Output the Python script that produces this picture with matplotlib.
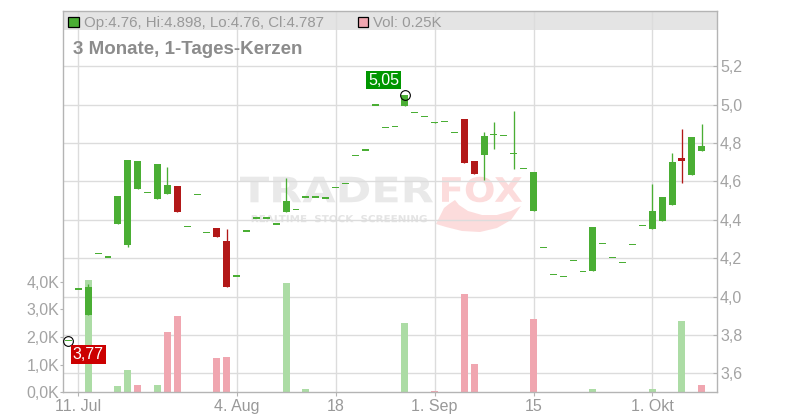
import numpy as np
import matplotlib
matplotlib.use("Agg")
import matplotlib.pyplot as plt
from matplotlib.patches import Rectangle, PathPatch, Polygon
from matplotlib.textpath import TextPath
from matplotlib.font_manager import FontProperties
from matplotlib.transforms import Affine2D, blended_transform_factory

plt.rcParams['font.family'] = ['Liberation Sans', 'DejaVu Sans']

# daily candles, one per trading day (index 0 = 10. Jul)
open_ = [3.77, 4.04, 3.904, 4.225, 4.206, 4.378, 4.269, 4.562, 4.543, 4.508,
         4.535, 4.576, 4.366, 4.533, 4.335, 4.357, 4.289, 4.107, 4.342, 4.409,
         4.409, 4.378, 4.442, 4.455, 4.519, 4.519, 4.514, 4.569, 4.590, 4.736,
         4.764, 4.998, 4.882, 4.887, 4.993, 4.960, 4.939, 4.902, 4.913, 4.856,
         4.925, 4.706, 4.738, 4.845, 4.840, 4.743, 4.668, 4.447, 4.257, 4.116,
         4.105, 4.189, 4.132, 4.133, 4.277, 4.204, 4.178, 4.272, 4.371, 4.352,
         4.394, 4.477, 4.722, 4.634, 4.76]
high = [3.77, 4.04, 4.064, 4.225, 4.206, 4.524, 4.711, 4.706, 4.543, 4.690,
        4.677, 4.576, 4.366, 4.533, 4.335, 4.357, 4.352, 4.107, 4.342, 4.409,
        4.409, 4.378, 4.619, 4.455, 4.519, 4.519, 4.514, 4.569, 4.590, 4.736,
        4.764, 4.998, 4.882, 4.887, 5.05, 4.960, 4.939, 4.91, 4.913, 4.856,
        4.925, 4.706, 4.859, 4.908, 4.840, 4.967, 4.668, 4.651, 4.257, 4.116,
        4.105, 4.189, 4.132, 4.362, 4.277, 4.204, 4.178, 4.272, 4.371, 4.586,
        4.519, 4.746, 4.871, 4.831, 4.898]
low = [3.77, 4.04, 3.904, 4.225, 4.206, 4.378, 4.26, 4.562, 4.543, 4.508,
       4.535, 4.442, 4.366, 4.533, 4.335, 4.312, 4.051, 4.107, 4.342, 4.409,
       4.409, 4.378, 4.442, 4.455, 4.519, 4.519, 4.514, 4.569, 4.590, 4.736,
       4.764, 4.998, 4.882, 4.887, 4.993, 4.960, 4.939, 4.902, 4.913, 4.856,
       4.697, 4.639, 4.607, 4.769, 4.840, 4.665, 4.668, 4.447, 4.257, 4.116,
       4.105, 4.189, 4.132, 4.133, 4.277, 4.204, 4.178, 4.272, 4.371, 4.352,
       4.394, 4.477, 4.593, 4.634, 4.76]
close = [3.77, 4.04, 4.051, 4.225, 4.206, 4.524, 4.711, 4.706, 4.543, 4.690,
         4.581, 4.442, 4.366, 4.533, 4.335, 4.312, 4.051, 4.107, 4.342, 4.409,
         4.409, 4.378, 4.498, 4.455, 4.519, 4.519, 4.514, 4.569, 4.590, 4.736,
         4.764, 4.998, 4.882, 4.887, 5.05, 4.960, 4.939, 4.91, 4.913, 4.856,
         4.697, 4.639, 4.837, 4.845, 4.840, 4.75, 4.668, 4.651, 4.257, 4.116,
         4.105, 4.189, 4.132, 4.362, 4.277, 4.204, 4.178, 4.272, 4.371, 4.446,
         4.519, 4.701, 4.708, 4.831, 4.787]
# volume in thousands
volume = [0, 0, 4.06, 0, 0, 0.23, 0.81, 0.26, 0, 0.26,
          2.19, 2.76, 0, 0, 0, 1.25, 1.29, 0, 0, 0,
          0, 0, 3.96, 0, 0.12, 0, 0, 0, 0, 0,
          0, 0, 0, 0, 2.52, 0, 0, 0.05, 0, 0,
          3.55, 1.02, 0, 0, 0, 0, 0, 2.65, 0, 0,
          0, 0, 0, 0.12, 0, 0, 0, 0, 0, 0.12,
          0, 0, 2.58, 0, 0.25]

date_ticks = [1, 17, 27, 37, 47, 59]
date_labels = ['11. Jul', '4. Aug', '18', '1. Sep', '15', '1. Okt']
price_ticks = [3.6, 3.8, 4.0, 4.2, 4.4, 4.6, 4.8, 5.0, 5.2]
vol_ticks = [0, 1, 2, 3, 4]

GREEN, RED = '#4aae34', '#b21818'
VGREEN, VPINK = '#acdca5', '#f0a6b0'
GRID = '#dcdcdc'
AXC = '#b4b4b4'
W, H = 800, 420

o, h, l, c = map(np.array, (open_, high, low, close))
x = np.arange(len(c))

fig = plt.figure(figsize=(8, 4.2), dpi=100)
ax_v = fig.add_axes([63.3 / W, (H - 392.3) / H, (716.5 - 63.3) / W, (392.3 - 11.3) / H])
ax_p = ax_v.twinx()
ax_v.set_zorder(1)
ax_p.set_zorder(2)
ax_p.patch.set_visible(False)

ax_v.set_xlim(-0.515, 65.49)
ax_v.set_ylim(0, 13.78)
ax_p.set_ylim(3.501, 5.4866)

# pixel -> inches, y flipped
pix = Affine2D().scale(1 / 100, -1 / 100).translate(0, H / 100) + fig.dpi_scale_trans


def fit_text(s, x0, y0, x1, y1, color, z=0.8):
    tp = TextPath((0, 0), s, size=50, prop=FontProperties(family='DejaVu Sans', weight='bold'))
    bb = tp.get_extents()
    tr = (Affine2D().translate(-bb.x0, -bb.y0)
          .scale((x1 - x0) / bb.width / 100, (y1 - y0) / bb.height / 100)
          .translate(x0 / 100, (H - y1) / 100) + fig.dpi_scale_trans)
    ax_v.add_artist(PathPatch(tp, transform=tr, facecolor=color, edgecolor='none', zorder=z))


# watermark
fit_text('TRADER', 240, 176.7, 433, 202.3, '#e9e9e9')
fit_text('FOX', 442, 176.7, 522, 202.3, '#fcdcdc')
fit_text('REALTIME  STOCK  SCREENING', 251.7, 215, 426.7, 222.3, '#e4e4e4')
tail = [(436, 224), (446, 227), (462, 231), (480, 232), (497, 228), (511, 220), (521, 206),
        (511, 211), (497, 215), (482, 215), (468, 211), (459, 205), (455, 200),
        (449, 204), (444, 208), (441, 214)]
ax_v.add_artist(Polygon(tail, closed=True, transform=pix, facecolor='#fcdcdc',
                        edgecolor='none', zorder=0.8))

# header bar
ax_v.add_patch(Rectangle((0, 1 - 18.7 / 381), 1, 18.7 / 381, transform=ax_v.transAxes,
                         facecolor='#e4e4e4', edgecolor='none', zorder=0.5))

# grid
gtr = blended_transform_factory(ax_v.transAxes, ax_p.transData)
for p in price_ticks:
    ax_v.plot([0, 1], [p, p], transform=gtr, color=GRID, lw=1.0, zorder=1)
for t in date_ticks:
    ax_v.axvline(t, color=GRID, lw=1.0, zorder=1)

# volume
prev = np.r_[c[0], c[:-1]]
vcol = [VGREEN if cc >= pc else VPINK for cc, pc in zip(c, prev)]
ax_v.bar(x, volume, width=0.7, color=vcol, zorder=2)

# candles
ccol = [GREEN if cc >= oo else RED for cc, oo in zip(c, o)]
for i in x:
    if h[i] > l[i]:
        ax_p.vlines(i, l[i], h[i], color=ccol[i], lw=0.95, zorder=3)
min_h = 1.3 / 191.9
body_lo = np.minimum(o, c)
body_h = np.abs(c - o)
small = body_h < min_h
bottoms = np.where(small, (o + c) / 2 - min_h / 2, body_lo)
heights = np.where(small, min_h, body_h)
ax_p.bar(x, heights, bottom=bottoms, width=0.7, color=ccol, zorder=4)

# min / max markers
imin, imax = int(np.argmin(l)), int(np.argmax(h))
ax_p.plot([imin, imax], [l[imin], h[imax]], 'o', mfc='none', mec='black', ms=7, mew=0.8, zorder=5)
ax_p.annotate(f'{l[imin]:.2f}'.replace('.', ','), (imin, l[imin]), xytext=(20, -13.5),
              textcoords='offset pixels', ha='center', va='center', color='white', fontsize=11.5,
              bbox=dict(boxstyle='square,pad=0.12', fc='#cc0000', ec='none'), zorder=6,
              annotation_clip=False)
ax_p.annotate(f'{h[imax]:.2f}'.replace('.', ','), (imax, h[imax]), xytext=(-21, 15),
              textcoords='offset pixels', ha='center', va='center', color='white', fontsize=11.5,
              bbox=dict(boxstyle='square,pad=0.12', fc='#009600', ec='none'), zorder=6,
              annotation_clip=False)

# axes styling
ax_v.set_xticks(date_ticks, date_labels)
ax_v.set_yticks(vol_ticks, [f'{v:.1f}K'.replace('.', ',') for v in vol_ticks])
ax_p.set_yticks(price_ticks, [f'{p:.1f}'.replace('.', ',') for p in price_ticks])
ax_v.tick_params(axis='x', direction='out', length=3, width=0.8, color=AXC,
                 labelcolor='#999999', labelsize=11.5, pad=1.5)
ax_v.tick_params(axis='y', direction='out', length=2.2, width=0.8, color=AXC,
                 labelcolor='#a3a3a3', labelsize=11.5, pad=0.7)
ax_p.tick_params(axis='y', direction='in', length=3.2, width=0.8, color=AXC,
                 labelcolor='#a3a3a3', labelsize=11.5, pad=2.5)
for s in ('left', 'bottom', 'top'):
    ax_v.spines[s].set_color(AXC)
    ax_v.spines[s].set_linewidth(1.0)
ax_v.spines['right'].set_visible(False)
for s in ('left', 'bottom', 'top'):
    ax_p.spines[s].set_visible(False)
ax_p.spines['right'].set_color(AXC)
ax_p.spines['right'].set_linewidth(1.0)

# header texts
fig.patches.append(Rectangle((68.3 / W, 1 - 26.7 / H), 10.7 / W, 10 / H, transform=fig.transFigure,
                             facecolor=GREEN, edgecolor='black', lw=0.9, zorder=10))
fig.patches.append(Rectangle((357.7 / W, 1 - 26.7 / H), 10 / W, 10 / H, transform=fig.transFigure,
                             facecolor=VPINK, edgecolor='black', lw=0.9, zorder=10))
fig.text(84 / W, 1 - 27.3 / H, f'Op:{o[-1]:g}, Hi:{h[-1]:g}, Lo:{l[-1]:g}, Cl:{c[-1]:g}',
         fontsize=10.8, color='#999999', va='baseline', zorder=10)
fig.text(373 / W, 1 - 27.3 / H, f'Vol: {volume[-1]:.2f}K', fontsize=10.8, color='#999999',
         va='baseline', zorder=10)
fig.text(72.7 / W, 1 - 54 / H, '3 Monate, 1-Tages-Kerzen', fontsize=13.5, fontweight='bold',
         color='#8c8c8c', va='baseline', zorder=10)

fig.savefig('out.png', dpi=100)
